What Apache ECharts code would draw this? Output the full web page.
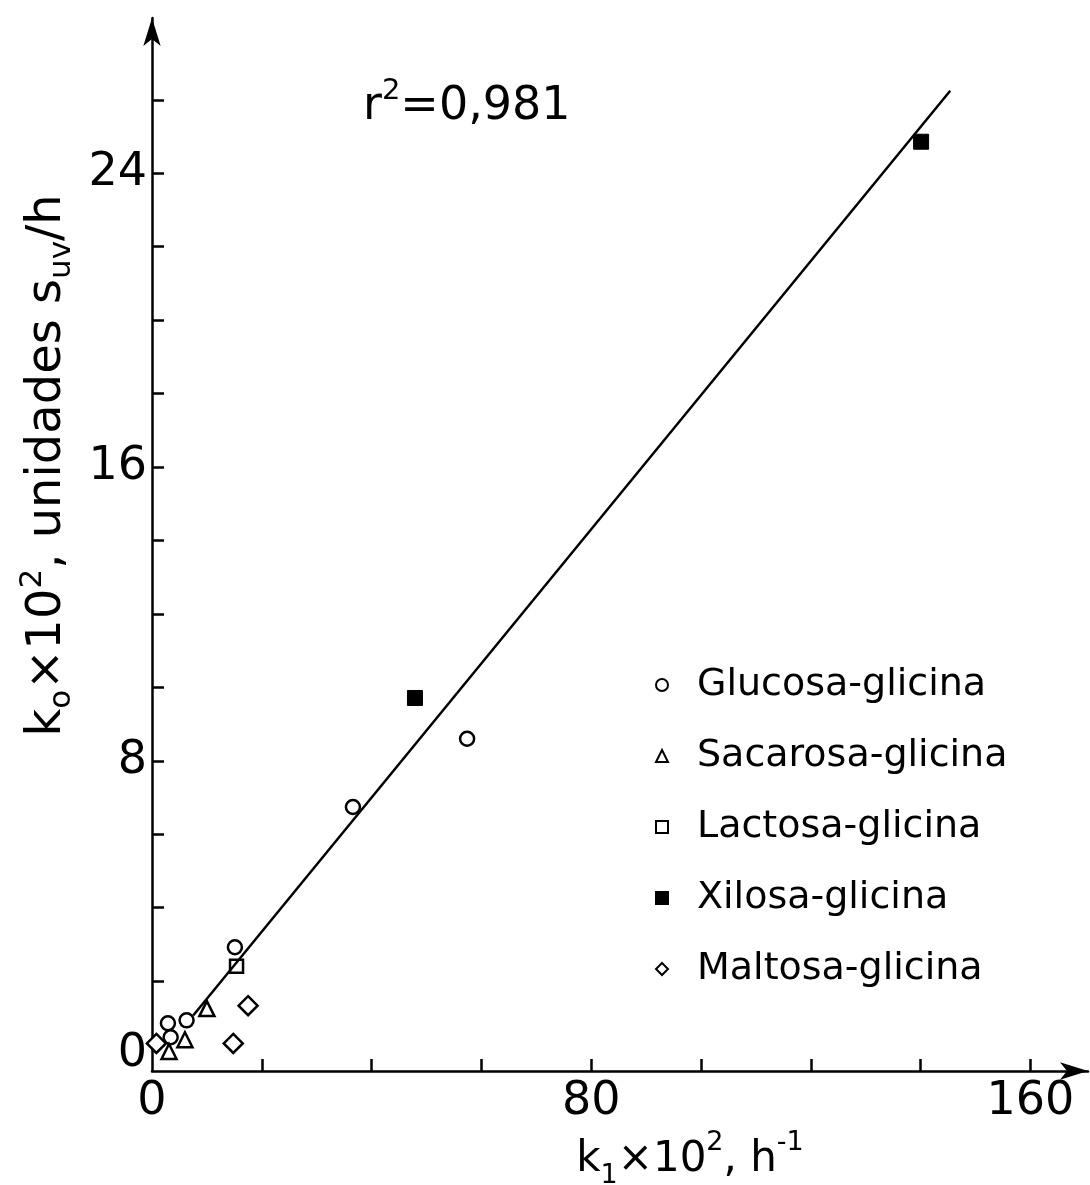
<!DOCTYPE html>
<html>
<head>
<meta charset="utf-8">
<script src="https://cdn.jsdelivr.net/npm/echarts@6/dist/echarts.min.js"></script>
<style>
  html, body { margin: 0; padding: 0; background: #fff; }
  #chart { width: 1090px; height: 1185px; }
</style>
</head>
<body>
<div id="chart"></div>
<script>
// data (k1 x 10^2, k0 x 10^2)
var glucosaX = [15.1, 2.9, 6.3, 3.4, 36.6, 57.4];
var glucosaY = [2.92, 0.85, 0.93, 0.47, 6.74, 8.6];
var sacarosaX = [10.0, 6.0, 3.1];
var sacarosaY = [1.25, 0.4, 0.08];
var lactosaX = [15.4];
var lactosaY = [2.4];
var xilosaX = [47.9, 140.1];
var xilosaY = [9.71, 24.86];
var maltosaX = [17.5, 14.8, 0.8];
var maltosaY = [1.33, 0.3, 0.3];
// regression line ends
var fitX = [7.5, 145.4];
var fitY = [1.06, 26.25];

var seriesNames = ["Glucosa-glicina", "Sacarosa-glicina", "Lactosa-glicina", "Xilosa-glicina", "Maltosa-glicina"];
var xTicks = [20, 40, 60, 80, 100, 120, 140, 160];
var xLabels = [0, 80, 160];
var yTicks = [2, 4, 6, 8, 10, 12, 14, 16, 18, 20, 22, 24, 26];
var yLabels = [0, 8, 16, 24];

function pairs(xs, ys) {
  var out = [];
  for (var i = 0; i < xs.length; i++) {
    out.push([xs[i], ys[i]]);
  }
  return out;
}

var font = "DejaVu Sans";
function richText(size) {
  var small = Math.round(size * 0.64);
  return {
    n: { fontSize: size, fontFamily: font, fontWeight: "normal", color: "#000", lineHeight: 60, verticalAlign: "middle" },
    sub: { fontSize: small, fontFamily: font, fontWeight: "normal", color: "#000", lineHeight: small, verticalAlign: "bottom" },
    sup: { fontSize: small, fontFamily: font, fontWeight: "normal", color: "#000", lineHeight: small, verticalAlign: "top" },
  };
}

var hollow = { color: "#fff", borderColor: "#000", borderWidth: 2.5, opacity: 1 };

var chart = echarts.init(document.getElementById("chart"));
var option = {
  backgroundColor: "#fff",
  animation: false,
  title: {
    text: "{n|r}{sup|2}{n|=0,981}",
    left: 358,
    top: 72,
    textStyle: { fontWeight: "normal", rich: richText(46) },
  },
  legend: {
    data: seriesNames,
    orient: "vertical",
    left: 650,
    top: 660,
    itemWidth: 12,
    itemHeight: 12,
    itemGap: 31,
    textStyle: {
      fontSize: 38,
      fontFamily: font,
      color: "#000",
      lineHeight: 40,
      padding: [0, 0, 0, 24],
    },
  },
  grid: {
    left: 152,
    right: 2,
    top: 18,
    bottom: 114,
    outerBoundsMode: "none",
  },
  xAxis: {
    type: "value",
    min: 0,
    max: 170.5,
    name: "{n|k}{sub|1}{n|×10}{sup|2}{n|, h}{sup|-1}",
    nameLocation: "middle",
    nameGap: 53,
    nameTextStyle: { rich: richText(42), padding: [0, 0, 0, 140] },
    axisLine: {
      onZero: false,
      symbol: ["none", "arrow"],
      symbolSize: [13, 28],
      lineStyle: { color: "#000", width: 2.5 },
    },
    axisTick: {
      show: true,
      inside: true,
      length: 12,
      customValues: xTicks,
      lineStyle: { color: "#000", width: 2.5 },
    },
    axisLabel: {
      customValues: xLabels,
      fontSize: 46,
      fontFamily: font,
      color: "#000",
      margin: 8,
    },
    splitLine: { show: false },
  },
  yAxis: {
    type: "value",
    min: -0.45,
    max: 28.23,
    name: "{n|k}{sub|o}{n|×10}{sup|2}{n|, unidades s}{sub|uv}{n|/h}",
    nameLocation: "middle",
    nameGap: 66,
    nameTextStyle: { rich: richText(48), padding: [0, 0, 0, 158] },
    axisLine: {
      onZero: false,
      symbol: ["none", "arrow"],
      symbolSize: [13, 28],
      lineStyle: { color: "#000", width: 2.5 },
    },
    axisTick: {
      show: true,
      inside: true,
      length: 12,
      customValues: yTicks,
      lineStyle: { color: "#000", width: 2.5 },
    },
    axisLabel: {
      customValues: yLabels,
      fontSize: 46,
      fontFamily: font,
      color: "#000",
      margin: 5,
    },
    splitLine: { show: false },
  },
  series: [
    {
      name: "ajuste",
      type: "line",
      data: pairs(fitX, fitY),
      symbol: "none",
      lineStyle: { color: "#000", width: 2.5 },
      silent: true,
    },
    {
      name: seriesNames[0],
      type: "scatter",
      symbol: "circle",
      symbolSize: 14,
      data: pairs(glucosaX, glucosaY),
      itemStyle: hollow,
    },
    {
      name: seriesNames[1],
      type: "scatter",
      symbol: "triangle",
      symbolSize: 15,
      data: pairs(sacarosaX, sacarosaY),
      itemStyle: hollow,
    },
    {
      name: seriesNames[2],
      type: "scatter",
      symbol: "rect",
      symbolSize: 13,
      data: pairs(lactosaX, lactosaY),
      itemStyle: hollow,
    },
    {
      name: seriesNames[3],
      type: "scatter",
      symbol: "rect",
      symbolSize: 15,
      data: pairs(xilosaX, xilosaY),
      itemStyle: { color: "#000", borderColor: "#000", borderWidth: 1, opacity: 1 },
    },
    {
      name: seriesNames[4],
      type: "scatter",
      symbol: "diamond",
      symbolSize: 19,
      data: pairs(maltosaX, maltosaY),
      itemStyle: hollow,
    },
  ],
};
chart.setOption(option);
</script>
</body>
</html>
